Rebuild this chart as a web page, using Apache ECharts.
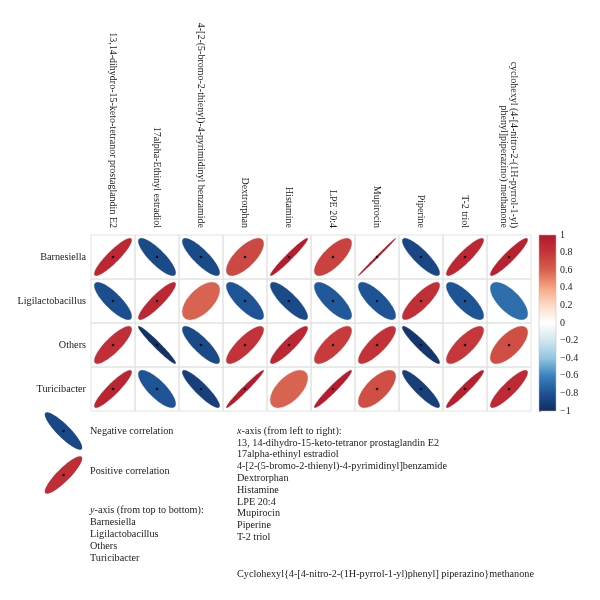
<!DOCTYPE html>
<html><head><meta charset="utf-8">
<script src="https://cdn.jsdelivr.net/npm/echarts@6/dist/echarts.min.js"></script>
<style>html,body{margin:0;padding:0;background:#fff}#c{width:600px;height:600px}</style>
</head><body><div id="c"></div>
<script>
const metabolites = [
  '13,14-dihydro-15-keto-tetranor prostaglandin E2',
  '17alpha-Ethinyl estradiol',
  '4-[2-(5-bromo-2-thienyl)-4-pyrimidinyl benzamide',
  'Dextrorphan',
  'Histamine',
  'LPE 20:4',
  'Mupirocin',
  'Piperine',
  'T-2 triol',
  'cyclohexyl (4-[4-nitro-2-(1H-pyrrol-1-yl)\nphenyl]piperazino) methanone'
];
const genera = ['Barnesiella', 'Ligilactobacillus', 'Others', 'Turicibacter'];
const rBarnesiella       = [0.90, -0.84, -0.84, 0.71, 0.97, 0.74, 0.997, -0.86, 0.90, 0.93];
const rLigilactobacillus = [-0.82, 0.90, 0.59, -0.79, -0.84, -0.77, -0.79, 0.84, -0.79, -0.68];
const rOthers            = [0.84, -0.97, -0.84, 0.82, 0.90, 0.77, 0.82, -0.94, 0.79, 0.68];
const rTuricibacter      = [0.91, -0.79, -0.90, 0.98, 0.59, 0.965, 0.68, -0.90, 0.955, 0.88];
const sigBarnesiella       = [1, 1, 1, 1, 1, 1, 1, 1, 1, 1];
const sigLigilactobacillus = [1, 1, 0, 1, 1, 1, 1, 1, 1, 0];
const sigOthers            = [1, 1, 1, 1, 1, 1, 1, 1, 1, 1];
const sigTuricibacter      = [1, 1, 1, 1, 0, 1, 1, 1, 1, 1];
const colorbarTicks = [-1, -0.8, -0.6, -0.4, -0.2, 0, 0.2, 0.4, 0.6, 0.8, 1];
const paletteColors = ['#122C5E', '#1D5194', '#3A82BE', '#92C5DE', '#D1E5F0', '#FFFFFF',
                       '#FDDBC7', '#F4A582', '#D6604D', '#C4353A', '#B2182B'];
const xLegendLines = [
  '13, 14-dihydro-15-keto-tetranor prostaglandin E2',
  '17alpha-ethinyl estradiol',
  '4-[2-(5-bromo-2-thienyl)-4-pyrimidinyl]benzamide',
  'Dextrorphan', 'Histamine', 'LPE 20:4', 'Mupirocin', 'Piperine', 'T-2 triol'
];
const xLegendLast = 'Cyclohexyl{4-[4-nitro-2-(1H-pyrrol-1-yl)phenyl] piperazino}methanone';

const FONT = '"Liberation Serif", "DejaVu Serif", serif';
const rows = [rBarnesiella, rLigilactobacillus, rOthers, rTuricibacter];
const sigs = [sigBarnesiella, sigLigilactobacillus, sigOthers, sigTuricibacter];
const data = [];
rows.forEach((row, yi) => row.forEach((r, xi) => data.push([xi, yi, r, sigs[yi][xi]])));

function ellPts(cx, cy, w, h, rho, scale) {
  const d = Math.acos(Math.max(-1, Math.min(1, rho)));
  const pts = [];
  for (let i = 0; i < 120; i++) {
    const k = 2 * Math.PI * i / 119;
    pts.push([cx + Math.cos(k + d / 2) / 2 * scale * w, cy - Math.cos(k - d / 2) / 2 * scale * h]);
  }
  return pts;
}
function hex2rgb(h) { return [1, 3, 5].map(i => parseInt(h.substr(i, 2), 16)); }
function colorAt(v) {
  const t = (v + 1) / 2 * (paletteColors.length - 1);
  const i = Math.min(paletteColors.length - 2, Math.floor(t));
  const f = t - i;
  const a = hex2rgb(paletteColors[i]), b = hex2rgb(paletteColors[i + 1]);
  return 'rgb(' + a.map((x, j) => Math.round(x + (b[j] - x) * f)).join(',') + ')';
}

const chart = echarts.init(document.getElementById('c'));

const graphics = [];
[[-0.88, 431], [0.88, 475]].forEach(([rho, cy]) => {
  graphics.push({ type: 'polygon', shape: { points: ellPts(63.5, cy, 44, 44, rho, 0.85) }, style: { fill: colorAt(rho * 0.97) } });
  graphics.push({ type: 'circle', shape: { cx: 63.5, cy: cy, r: 1.3 }, style: { fill: '#111' } });
});
const txt = (x, y, s, size) => ({ type: 'text', x: x, y: y, style: { text: s, font: (size || 10.2) + 'px ' + FONT, fill: '#1a1a1a', verticalAlign: 'middle' } });
graphics.push(txt(90, 431, 'Negative correlation'));
graphics.push(txt(90, 471, 'Positive correlation'));
graphics.push({ type: 'text', x: 90, y: 510, style: { text: '{i|y}-axis (from top to bottom):', font: '10.2px ' + FONT, fill: '#1a1a1a', verticalAlign: 'middle',
  rich: { i: { fontStyle: 'italic', fontFamily: FONT, fontSize: 10.2 } } } });
genera.forEach((g, i) => graphics.push(txt(90, 522 + i * 12, g)));
graphics.push({ type: 'text', x: 237, y: 431, style: { text: '{i|x}-axis (from left to right):', font: '10.2px ' + FONT, fill: '#1a1a1a', verticalAlign: 'middle',
  rich: { i: { fontStyle: 'italic', fontFamily: FONT, fontSize: 10.2 } } } });
xLegendLines.forEach((s, i) => graphics.push(txt(237, 443 + i * 11.8, s)));
graphics.push(txt(237, 574, xLegendLast));

chart.setOption({
  animation: false,
  backgroundColor: '#fff',
  grid: [
    { left: 91, top: 235, width: 440, height: 176 },
    { left: 539, top: 235, width: 17, height: 176 }
  ],
  xAxis: [
    { type: 'category', gridIndex: 0, data: metabolites, position: 'top',
      axisLine: { show: false }, axisTick: { show: false }, splitLine: { show: false },
      axisLabel: { interval: 0, rotate: 90, margin: 7, fontFamily: FONT, fontSize: 10, color: '#1a1a1a', lineHeight: 10 } },
    { type: 'value', gridIndex: 1, min: 0, max: 1, show: false }
  ],
  yAxis: [
    { type: 'category', gridIndex: 0, data: genera, inverse: true,
      axisLine: { show: false }, axisTick: { show: false }, splitLine: { show: false },
      axisLabel: { margin: 5, fontFamily: FONT, fontSize: 10.2, color: '#1a1a1a' } },
    { type: 'value', gridIndex: 1, min: colorbarTicks[0], max: colorbarTicks[colorbarTicks.length - 1], interval: 0.2, position: 'right',
      splitLine: { show: false },
      axisLine: { show: true, lineStyle: { color: '#aaa', width: 1 } },
      axisTick: { show: true, length: 2, lineStyle: { color: '#888' } },
      axisLabel: { margin: 4, fontFamily: FONT, fontSize: 10, color: '#1a1a1a',
        formatter: v => { const s = (Math.round(v * 10) / 10).toString(); return s.replace('-', '\u2212'); } } }
  ],
  visualMap: { show: false, type: 'continuous', min: -1, max: 1, dimension: 2, seriesIndex: 0, inRange: { color: paletteColors } },
  graphic: graphics,
  series: [
    { type: 'custom', xAxisIndex: 0, yAxisIndex: 0, data: data,
      renderItem: (params, api) => {
        const c = api.coord([api.value(0), api.value(1)]);
        const sz = api.size([1, 1]);
        const rho = api.value(2);
        const children = [
          { type: 'rect', shape: { x: c[0] - sz[0] / 2, y: c[1] - sz[1] / 2, width: sz[0], height: sz[1] },
            style: { fill: 'none', stroke: '#e2e2e2', lineWidth: 1 } },
          { type: 'polygon', shape: { points: ellPts(c[0], c[1], sz[0], sz[1], rho, 0.85) },
            style: { fill: api.visual('color'), stroke: api.visual('color'), lineWidth: 0.3 } }
        ];
        if (api.value(3)) children.push({ type: 'circle', shape: { cx: c[0], cy: c[1], r: 1.3 }, style: { fill: '#111' } });
        return { type: 'group', children: children };
      } },
    { type: 'custom', xAxisIndex: 1, yAxisIndex: 1, data: [[0, colorbarTicks[0]]],
      renderItem: (params, api) => {
        const p0 = api.coord([0, colorbarTicks[colorbarTicks.length - 1]]);
        const p1 = api.coord([1, colorbarTicks[0]]);
        const stops = paletteColors.map((col, i) => ({ offset: 1 - i / (paletteColors.length - 1), color: col })).reverse();
        return { type: 'rect', shape: { x: p0[0], y: p0[1], width: p1[0] - p0[0], height: p1[1] - p0[1] },
          style: { fill: new echarts.graphic.LinearGradient(0, 0, 0, 1, stops), stroke: '#bbb', lineWidth: 0.5 } };
      } }
  ]
});
</script>
</body></html>
